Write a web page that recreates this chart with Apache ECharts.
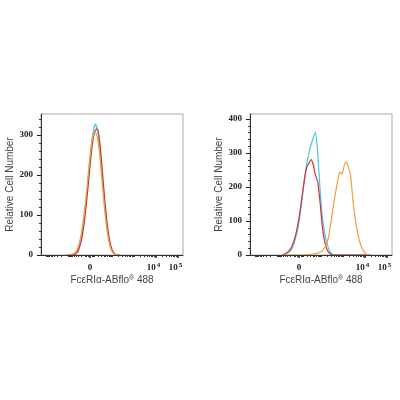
<!DOCTYPE html>
<html>
<head>
    <meta charset="UTF-8">
    <title>FcεRIα-ABflo 488 histograms</title>
    <script type="text/javascript" src="https://cdn.jsdelivr.net/npm/echarts@6/dist/echarts.min.js"></script>
</head>
<body style="margin: 0;overflow: hidden;background: #fff;width: 400px;height: 400px;">
<div id="chart" style="width: 400px;height: 400px;"></div>
<script type="text/javascript">
    // x values are in display units of the biexponential axis (0 -> 1, 10^4 -> 4, 10^5 -> 5)
    var leftBins = [-0.05, 0.05, 0.15, 0.25, 0.35, 0.45, 0.55, 0.65, 0.75, 0.85, 0.95, 1.05, 1.15,
        1.25, 1.35, 1.45, 1.55, 1.65, 1.75, 1.85, 1.95, 2.05, 2.15, 2.25, 2.35];
    var leftCyan = [0, 0, 0, 1, 4, 12, 30, 60, 100, 150, 210, 268, 310, 327, 308, 262, 200, 135, 80, 42, 18, 6, 2, 0, 0];
    var leftRed = [0, 0, 0, 1, 3, 9, 24, 48, 86, 135, 192, 250, 292, 312, 314, 278, 218, 152, 94, 50, 22, 8, 2, 0, 0];
    var leftOrange = [0, 0, 1, 3, 8, 19, 38, 68, 110, 160, 218, 270, 300, 305, 288, 245, 182, 122, 72, 36, 15, 5, 1, 0, 0];

    var rightBins = [0.25, 0.35, 0.45, 0.55, 0.65, 0.75, 0.85, 0.95, 1.05, 1.15, 1.25, 1.35, 1.45, 1.55,
        1.65, 1.75, 1.85, 1.95, 2.05, 2.15, 2.25, 2.35, 2.45, 2.55, 2.65, 2.75, 2.85, 2.95, 3.05,
        3.15, 3.25, 3.35, 3.45, 3.55, 3.65, 3.75, 3.85, 3.95, 4.05, 4.15, 4.25];
    var rightCyan = [0, 2, 5, 9, 16, 30, 52, 78, 120, 170, 220, 268, 300, 325, 345, 361, 300, 200, 120, 70,
        40, 18, 6, 1, 0, 0, 0, 0, 0, 0, 0, 0, 0, 0, 0, 0, 0, 0, 0, 0, 0];
    var rightRed = [0, 3, 7, 13, 22, 38, 60, 90, 130, 178, 225, 258, 270, 281, 265, 235, 215, 160, 90, 45,
        20, 8, 2, 0, 0, 0, 0, 0, 0, 0, 0, 0, 0, 0, 0, 0, 0, 0, 0, 0, 0];
    var rightOrange = [0, 0, 0, 0, 0, 0, 0, 0, 0, 0, 0, 1, 1, 2, 3, 4, 6, 8, 12, 20, 32, 55, 95, 140, 180,
        215, 245, 238, 262, 274, 258, 230, 162, 110, 70, 42, 22, 10, 4, 1, 0];

    var xTickValues = [0, 10000, 100000];
    var xTickLabels = ['0', '10{sup|4}', '10{sup|5}'];
    var xMinorValues = [-1000, -900, -800, -700, -600, -500, -400, -300, -200, -100, -90, -80, -70, -60, -50,
        -40, -30, -20, -10, -8, -4, 4, 8, 10, 20, 30, 40, 50, 60, 70, 80, 90, 100, 200, 300, 400, 500, 600,
        700, 800, 900, 1000, 2000, 3000, 4000, 5000, 6000, 7000, 8000, 9000, 20000, 30000, 40000, 50000,
        60000, 70000, 80000, 90000];
    var leftYTicks = [0, 100, 200, 300];
    var rightYTicks = [0, 100, 200, 300, 400];
    var leftYMax = 352;
    var rightYMax = 415;

    var colors = {cyan: '#45c5e6', red: '#cf3535', orange: '#f0a03c'};

    function biex(v) {
        return 1 + Math.asinh(v / 20) / Math.LN10;
    }

    function pairs(bins, values) {
        var out = [];
        for (var i = 0; i < bins.length; i++) {
            out.push([bins[i], values[i]]);
        }
        return out;
    }

    function yMinor(max) {
        var out = [];
        for (var v = 20; v < max; v += 20) {
            if (v % 100 !== 0) out.push(v);
        }
        return out;
    }

    var labelFont = {fontFamily: 'Liberation Serif', fontSize: 9, fontWeight: 'bold', color: '#222'};
    var nameFont = {fontFamily: 'Liberation Sans', fontSize: 10, color: '#444'};
    var majorX = xTickValues.map(biex);

    function xAxes(gridIndex) {
        return [{
            type: 'value', gridIndex: gridIndex, position: 'bottom', z: 5,
            min: -1.227, max: 5.227,
            name: 'FcεRIα-ABflo{sup|®} 488', nameLocation: 'middle', nameGap: 19,
            nameTextStyle: {
                fontFamily: nameFont.fontFamily, fontSize: nameFont.fontSize, color: nameFont.color,
                rich: {sup: {fontSize: 7, verticalAlign: 'top', lineHeight: 8, color: nameFont.color}}
            },
            axisLine: {onZero: false, lineStyle: {color: '#333', width: 1}},
            axisTick: {customValues: majorX, length: 3, lineStyle: {color: '#222', width: 1.5}},
            splitLine: {show: false},
            axisLabel: {
                customValues: majorX, margin: 7,
                formatter: function (value) {
                    var best = 0;
                    for (var i = 1; i < majorX.length; i++) {
                        if (Math.abs(majorX[i] - value) < Math.abs(majorX[best] - value)) best = i;
                    }
                    return xTickLabels[best];
                },
                fontFamily: labelFont.fontFamily, fontSize: 9, fontWeight: 'bold', color: labelFont.color,
                lineHeight: 12,
                rich: {sup: {fontFamily: labelFont.fontFamily, fontSize: 7, fontWeight: 'bold',
                    color: labelFont.color, verticalAlign: 'top', lineHeight: 7, padding: [0, 5, 0, 1]}}
            }
        }, {
            type: 'value', gridIndex: gridIndex, position: 'bottom', z: 5,
            min: -1.227, max: 5.227,
            axisLine: {show: false, onZero: false},
            axisTick: {customValues: xMinorValues.map(biex), length: 2, lineStyle: {color: '#333', width: 1}},
            axisLabel: {show: false},
            splitLine: {show: false}
        }];
    }

    function yAxes(gridIndex, max, ticks) {
        return [{
            type: 'value', gridIndex: gridIndex, position: 'left', min: 0, max: max,
            name: 'Relative Cell Number', nameLocation: 'middle', nameGap: 24, nameRotate: 90,
            nameTextStyle: nameFont,
            axisLine: {show: true, onZero: false, lineStyle: {color: '#333', width: 1}},
            axisTick: {show: true, customValues: ticks, length: 4, lineStyle: {color: '#222'}},
            splitLine: {show: false},
            axisLabel: {customValues: ticks, margin: 8, fontFamily: labelFont.fontFamily,
                fontSize: labelFont.fontSize, fontWeight: labelFont.fontWeight, color: labelFont.color}
        }, {
            type: 'value', gridIndex: gridIndex, position: 'left', min: 0, max: max,
            axisLine: {show: false, onZero: false},
            axisTick: {show: true, customValues: yMinor(max), length: 2, lineStyle: {color: '#333'}},
            axisLabel: {show: false},
            splitLine: {show: false}
        }];
    }

    function line(name, xIndex, yIndex, data, color) {
        return {
            name: name, type: 'line', xAxisIndex: xIndex, yAxisIndex: yIndex,
            data: data, showSymbol: false, smooth: 0.2, animation: false,
            lineStyle: {color: color, width: 1.2}, itemStyle: {color: color}
        };
    }

    var chart = echarts.init(document.getElementById('chart'));
    chart.setOption({
        backgroundColor: '#fff',
        animation: false,
        grid: [
            {left: 41, top: 114, width: 142, height: 141, show: true, borderColor: '#aaa', borderWidth: 1},
            {left: 250, top: 114, width: 142, height: 141, show: true, borderColor: '#aaa', borderWidth: 1}
        ],
        xAxis: xAxes(0).concat(xAxes(1)),
        yAxis: yAxes(0, leftYMax, leftYTicks).concat(yAxes(1, rightYMax, rightYTicks)),
        series: [
            line('Isotype', 0, 0, pairs(leftBins, leftCyan), colors.cyan),
            line('Blank', 0, 0, pairs(leftBins, leftRed), colors.red),
            line('FcεRIα', 0, 0, pairs(leftBins, leftOrange), colors.orange),
            line('Isotype', 2, 2, pairs(rightBins, rightCyan), colors.cyan),
            line('Blank', 2, 2, pairs(rightBins, rightRed), colors.red),
            line('FcεRIα', 2, 2, pairs(rightBins, rightOrange), colors.orange)
        ]
    });
</script>
</body>
</html>
